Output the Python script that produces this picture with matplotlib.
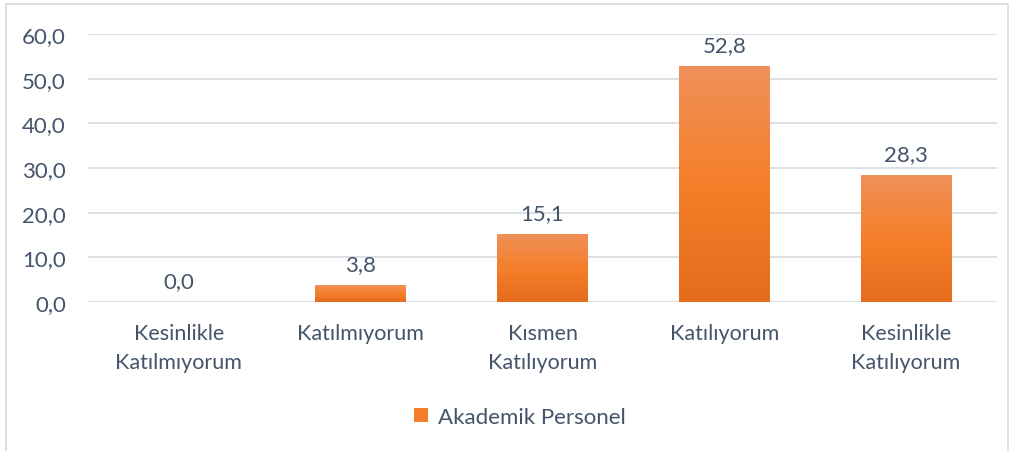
import matplotlib.pyplot as plt
import numpy as np
from matplotlib.colors import LinearSegmentedColormap
from matplotlib.patches import Rectangle

categories = ["Kesinlikle\nKatılmıyorum", "Katılmıyorum", "Kısmen\nKatılıyorum",
              "Katılıyorum", "Kesinlikle\nKatılıyorum"]
values = [0.0, 3.8, 15.1, 52.8, 28.3]
series_name = "Akademik Personel"
yticks = [0, 10, 20, 30, 40, 50, 60]

text_color = "#44546A"
grid_color = "#D9DDE2"
plt.rcParams['font.family'] = ['Lato', 'DejaVu Sans']

fig = plt.figure(figsize=(10.16, 4.52), dpi=100)
ax = fig.add_axes([88 / 1016, 1 - 303 / 452, (997 - 88) / 1016, (303 - 35) / 452])

# frame around the whole chart
fig.patches.append(Rectangle((6 / 1016, -0.01), (1008 - 6) / 1016, 1 - 5 / 452 + 0.01,
                             transform=fig.transFigure, fill=False,
                             edgecolor="#D9D9D9", linewidth=1.2))

x = np.arange(len(categories))
bars = ax.bar(x, values, width=0.5, color="#F47F2A", zorder=2, label=series_name)

# gradient fill like office charts
cmap = LinearSegmentedColormap.from_list("org", ["#E46C1C", "#F57F2A", "#F0905A"])
grad = np.linspace(0, 1, 256).reshape(-1, 1)
for b in bars:
    if b.get_height() <= 0:
        continue
    b.set_facecolor("none")
    ax.imshow(grad, cmap=cmap, origin="lower", aspect="auto", zorder=2,
              extent=[b.get_x(), b.get_x() + b.get_width(), 0, b.get_height()])

for xi, v in zip(x, values):
    ax.text(xi, v + 2.5, f"{v:.1f}".replace(".", ","), ha="center", va="bottom",
            fontsize=16, color=text_color)

ax.set_xlim(-0.5, len(categories) - 0.5)
ax.set_ylim(0, 60)
ax.set_yticks(yticks)
ax.set_yticklabels([f"{t:.1f}".replace(".", ",") for t in yticks])
ax.set_xticks(x)
ax.set_xticklabels(categories, linespacing=1.6)
ax.tick_params(axis="both", length=0, labelcolor=text_color)
ax.tick_params(axis="y", pad=16, labelsize=16)
ax.tick_params(axis="x", pad=15, labelsize=15.5)
ax.grid(axis="y", color=grid_color, linewidth=1.3, zorder=0)
for s in ax.spines.values():
    s.set_visible(False)

leg = fig.legend(handles=[bars], labels=[series_name], loc="center",
                 bbox_to_anchor=(520 / 1016, 1 - 418 / 452), frameon=False,
                 fontsize=16, handlelength=0.6, handleheight=0.6, handletextpad=0.45)
for t in leg.get_texts():
    t.set_color(text_color)
leg.legend_handles[0].set_facecolor("#F47F2A")

fig.savefig("out.png", dpi=100)
